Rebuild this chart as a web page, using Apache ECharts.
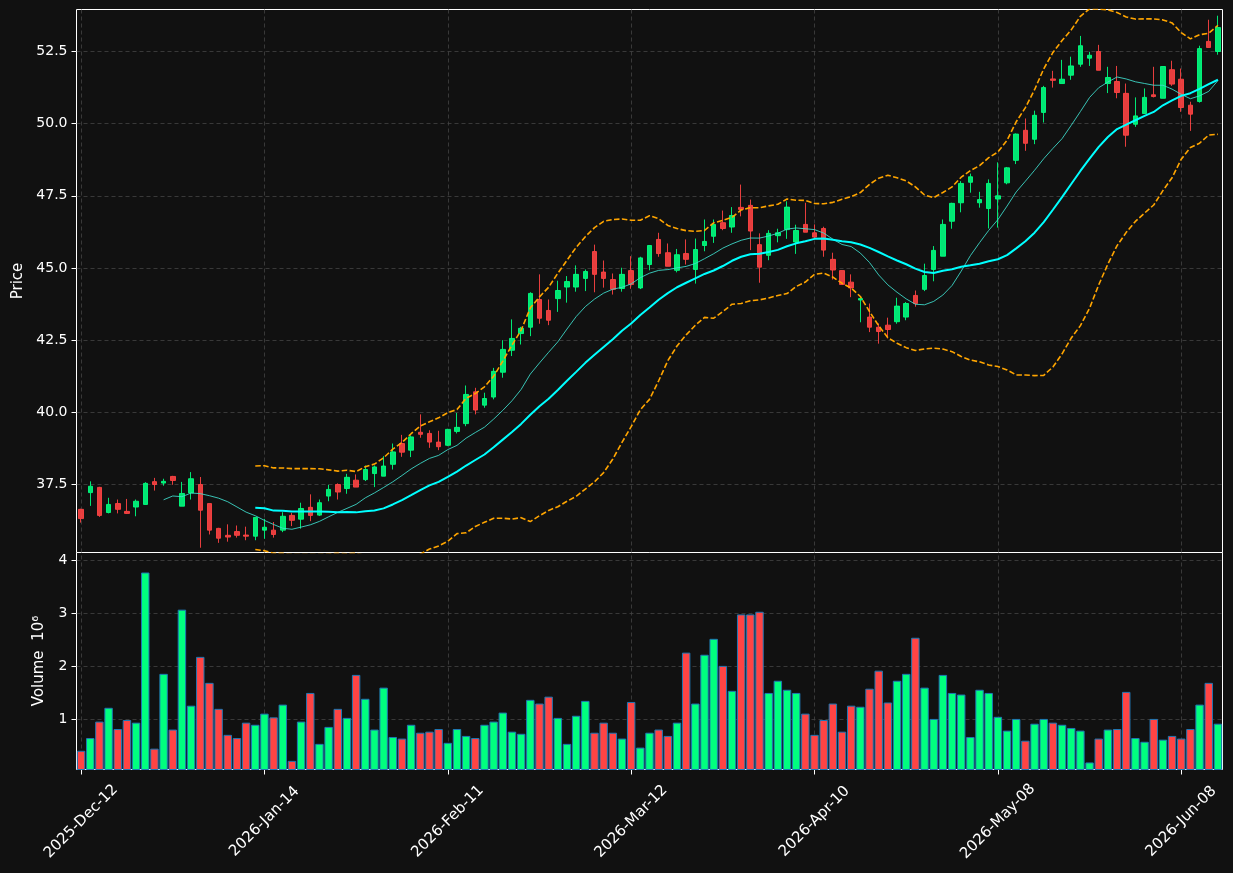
<!DOCTYPE html>
<html>
<head>
<meta charset="utf-8">
<script src="https://cdn.jsdelivr.net/npm/echarts@6/dist/echarts.min.js"></script>
<style>
  html, body { margin: 0; background: #111111; }
  #chart { width: 1233px; height: 873px; }
</style>
</head>
<body>
<div id="chart"></div>
<script>
// trading days start here, weekends and these holidays skipped
const firstDay = '2025-12-12';
const holidays = ['2025-12-25', '2025-12-26', '2026-01-01', '2026-02-16', '2026-04-03', '2026-05-25'];

const opens = [36.64, 37.22, 37.40, 36.53, 36.84, 36.57, 36.72, 36.81, 37.60, 37.55,
  37.78, 36.75, 37.21, 37.50, 36.84, 35.98, 35.74, 35.87, 35.75, 35.71,
  35.92, 35.92, 35.92, 36.43, 36.30, 36.71, 36.44, 37.10, 37.50, 37.36,
  37.65, 37.67, 37.88, 37.79, 38.20, 38.92, 38.69, 39.31, 39.27, 38.97,
  38.86, 39.34, 39.61, 40.71, 40.25, 40.53, 41.39, 42.15, 42.73, 42.95,
  43.91, 43.53, 43.94, 44.34, 44.34, 44.64, 45.57, 44.86, 44.60, 44.29,
  44.91, 44.31, 45.12, 45.99, 45.53, 44.92, 45.50, 44.95, 45.78, 46.10,
  46.57, 46.42, 47.10, 47.17, 45.81, 45.44, 46.12, 46.33, 45.90, 46.51,
  46.22, 46.37, 45.30, 44.91, 44.51, 43.89, 43.30, 42.95, 43.02, 43.14,
  43.30, 44.05, 44.26, 44.95, 45.41, 46.62, 47.26, 47.97, 47.26, 47.06,
  47.39, 47.95, 48.73, 49.77, 49.46, 50.39, 51.55, 51.39, 51.68, 52.06,
  52.27, 52.50, 51.39, 51.46, 51.05, 49.98, 50.35, 51.00, 50.88, 51.87,
  51.54, 50.64, 50.77, 52.85, 52.50];
const highs = [36.66, 37.61, 37.42, 37.04, 36.98, 37.00, 36.98, 37.58, 37.73, 37.70,
  37.80, 37.59, 37.93, 37.76, 36.84, 36.00, 36.12, 36.08, 36.04, 36.36,
  36.31, 36.20, 36.54, 36.52, 36.87, 37.16, 36.98, 37.49, 37.54, 37.87,
  37.85, 38.16, 38.16, 38.48, 38.92, 39.22, 39.20, 39.93, 39.38, 39.36,
  39.43, 39.98, 40.93, 40.85, 40.68, 41.54, 42.50, 43.22, 42.96, 44.16,
  44.78, 43.91, 44.56, 44.72, 45.09, 44.95, 45.81, 45.26, 44.81, 45.01,
  45.41, 45.39, 45.78, 46.22, 45.85, 45.66, 45.99, 46.02, 46.68, 46.68,
  46.99, 47.11, 47.89, 47.37, 46.20, 46.31, 46.36, 47.31, 46.50, 47.26,
  46.51, 46.43, 45.53, 44.92, 44.78, 43.94, 43.77, 43.08, 43.28, 43.97,
  43.82, 44.22, 45.15, 45.76, 46.68, 47.26, 48.01, 48.27, 47.64, 48.07,
  48.66, 48.50, 49.66, 50.18, 50.45, 51.31, 51.83, 52.21, 52.32, 53.04,
  52.49, 52.73, 51.97, 52.00, 51.39, 50.91, 51.22, 51.97, 51.98, 52.18,
  51.91, 50.76, 52.70, 53.60, 53.74];
const lows = [36.18, 36.76, 36.38, 36.50, 36.50, 36.48, 36.40, 36.80, 37.29, 37.46,
  37.49, 36.75, 36.98, 35.31, 35.77, 35.48, 35.52, 35.66, 35.57, 35.57,
  35.62, 35.66, 35.85, 36.06, 35.97, 36.23, 36.41, 36.92, 36.98, 37.18,
  37.41, 37.62, 37.41, 37.79, 38.02, 38.46, 38.45, 39.12, 38.77, 38.69,
  38.83, 39.27, 39.52, 39.93, 40.16, 40.45, 41.20, 41.95, 42.35, 42.64,
  43.07, 43.02, 43.48, 43.80, 44.18, 44.20, 44.16, 44.32, 44.08, 44.18,
  44.28, 44.27, 44.92, 45.39, 45.06, 44.85, 45.12, 44.46, 45.58, 45.87,
  46.31, 46.22, 46.79, 45.62, 44.49, 45.27, 45.89, 46.01, 45.49, 46.24,
  45.99, 45.39, 44.60, 44.43, 43.99, 43.12, 42.78, 42.38, 42.56, 43.07,
  43.19, 43.66, 44.20, 44.54, 45.41, 46.36, 46.93, 47.61, 47.09, 46.37,
  46.40, 47.90, 48.60, 49.06, 49.29, 50.04, 51.25, 51.39, 51.52, 51.97,
  52.00, 51.85, 51.06, 50.88, 49.20, 49.89, 50.35, 50.91, 50.88, 51.31,
  50.41, 49.75, 50.73, 52.64, 52.39];
const closes = [36.32, 37.44, 36.43, 36.81, 36.64, 36.50, 36.92, 37.54, 37.50, 37.61,
  37.64, 37.19, 37.70, 36.61, 35.92, 35.64, 35.68, 35.74, 35.71, 36.36,
  36.02, 35.77, 36.40, 36.26, 36.67, 36.43, 36.87, 37.33, 37.24, 37.75,
  37.41, 38.02, 38.11, 38.14, 38.63, 38.62, 39.15, 39.24, 38.97, 38.81,
  39.41, 39.48, 40.62, 40.08, 40.48, 41.42, 42.18, 42.56, 42.91, 44.12,
  43.26, 43.19, 44.22, 44.53, 44.78, 44.88, 44.78, 44.64, 44.26, 44.78,
  44.43, 45.35, 45.78, 45.50, 45.06, 45.46, 45.30, 45.64, 45.92, 46.51,
  46.37, 46.82, 47.03, 46.28, 45.03, 46.20, 46.22, 47.11, 46.30, 46.24,
  46.07, 45.62, 44.93, 44.43, 44.31, 43.94, 42.95, 42.80, 42.87, 43.68,
  43.77, 43.77, 44.74, 45.61, 46.51, 47.24, 47.93, 48.16, 47.37, 47.93,
  47.50, 48.47, 49.64, 49.32, 50.29, 51.25, 51.50, 51.54, 52.00, 52.70,
  52.37, 51.85, 51.60, 51.08, 49.60, 50.27, 50.91, 50.94, 51.98, 51.37,
  50.56, 50.33, 52.60, 52.64, 53.33];
// volume in millions
const volumes = [0.41, 0.65, 0.96, 1.22, 0.82, 0.99, 0.94, 3.77, 0.45, 1.86,
  0.81, 3.07, 1.26, 2.18, 1.69, 1.20, 0.71, 0.65, 0.94, 0.90,
  1.11, 1.04, 1.28, 0.22, 0.96, 1.50, 0.54, 0.86, 1.20, 1.03,
  1.84, 1.39, 0.81, 1.60, 0.67, 0.64, 0.90, 0.75, 0.77, 0.82,
  0.56, 0.82, 0.69, 0.65, 0.90, 0.96, 1.13, 0.77, 0.73, 1.37,
  1.30, 1.43, 1.03, 0.54, 1.07, 1.35, 0.75, 0.94, 0.75, 0.64,
  1.33, 0.47, 0.75, 0.81, 0.69, 0.94, 2.26, 1.30, 2.22, 2.52,
  2.01, 1.54, 2.98, 2.98, 3.03, 1.50, 1.73, 1.56, 1.50, 1.11,
  0.71, 0.99, 1.30, 0.77, 1.26, 1.24, 1.58, 1.92, 1.32, 1.73,
  1.86, 2.54, 1.60, 1.01, 1.84, 1.50, 1.47, 0.67, 1.56, 1.50,
  1.05, 0.79, 1.01, 0.60, 0.92, 1.01, 0.94, 0.90, 0.84, 0.79,
  0.19, 0.64, 0.81, 0.82, 1.52, 0.65, 0.58, 1.01, 0.62, 0.69,
  0.64, 0.82, 1.28, 1.69, 0.92];

const priceTicks = [37.5, 40, 42.5, 45, 47.5, 50, 52.5];
const volumeTicks = [1, 2, 3, 4];
const labelEvery = 20;

const UP = '#00ff7f';
const DOWN = '#ff4444';
const GRID_LINE = { color: '#444444', type: [4, 3], width: 0.8 };

const MONTHS = ['Jan', 'Feb', 'Mar', 'Apr', 'May', 'Jun', 'Jul', 'Aug', 'Sep', 'Oct', 'Nov', 'Dec'];
function tradingDays(start, n) {
  const out = [];
  const d = new Date(start + 'T00:00:00Z');
  while (out.length < n) {
    const iso = d.toISOString().slice(0, 10);
    const wd = d.getUTCDay();
    if (wd !== 0 && wd !== 6 && holidays.indexOf(iso) < 0) {
      out.push(iso.slice(0, 4) + '-' + MONTHS[d.getUTCMonth()] + '-' + iso.slice(8, 10));
    }
    d.setUTCDate(d.getUTCDate() + 1);
  }
  return out;
}
const dates = tradingDays(firstDay, closes.length);

function rolling(arr, n, fn) {
  return arr.map((v, i) => (i < n - 1 ? null : fn(arr.slice(i - n + 1, i + 1))));
}
const mean = (a) => a.reduce((s, v) => s + v, 0) / a.length;
const std = (a) => {
  const m = mean(a);
  return Math.sqrt(a.reduce((s, v) => s + (v - m) * (v - m), 0) / (a.length - 1));
};
const ma10 = rolling(closes, 10, mean);
const ma20 = rolling(closes, 20, mean);
const bbUpper = rolling(closes, 20, (a) => mean(a) + 2 * std(a));
const bbLower = rolling(closes, 20, (a) => mean(a) - 2 * std(a));

const candles = dates.map((d, i) => [opens[i], closes[i], lows[i], highs[i]]);
const volumeBars = volumes.map((v, i) => ({
  value: v,
  itemStyle: { color: closes[i] >= opens[i] ? UP : DOWN }
}));

const tickIdx = dates.map((d, i) => i).filter((i) => i % labelEvery === 0);
const showTick = (i) => i % labelEvery === 0;
const vLines = tickIdx.map((i) => ({ xAxis: dates[i] }));

const chart = echarts.init(document.getElementById('chart'));
const axisText = { color: '#ffffff', fontSize: 14, fontFamily: 'DejaVu Sans' };
const nameText = { color: '#ffffff', fontSize: 15, fontFamily: 'DejaVu Sans' };

chart.setOption({
  backgroundColor: '#111111',
  animation: false,
  grid: [
    { left: 76.5, top: 9.5, width: 1146, height: 543, show: true, borderColor: '#ffffff', borderWidth: 1, backgroundColor: '#111111' },
    { left: 76.5, top: 552.5, width: 1146, height: 217, show: true, borderColor: '#ffffff', borderWidth: 1, backgroundColor: '#111111' }
  ],
  xAxis: [
    {
      type: 'category', gridIndex: 0, data: dates, boundaryGap: true,
      axisLine: { show: false }, axisTick: { show: false }, axisLabel: { show: false },
      splitLine: { show: false }
    },
    {
      type: 'category', gridIndex: 1, data: dates, boundaryGap: true,
      axisLine: { show: false },
      axisTick: { show: true, alignWithLabel: true, interval: showTick, length: 5, lineStyle: { color: '#ffffff' } },
      axisLabel: Object.assign({}, axisText, {
        fontSize: 15, interval: showTick, rotate: 45, margin: 52, align: 'center', verticalAlign: 'middle'
      }),
      splitLine: { show: false }
    }
  ],
  yAxis: [
    {
      type: 'value', gridIndex: 0, min: 35.145, max: 53.955, scale: true,
      name: 'Price', nameLocation: 'middle', nameGap: 51,
      nameTextStyle: nameText,
      axisLine: { show: false },
      axisTick: { show: true, length: 5, customValues: priceTicks, lineStyle: { color: '#ffffff' } },
      axisLabel: Object.assign({ customValues: priceTicks, margin: 9, formatter: (v) => v.toFixed(1) }, axisText),
      splitLine: { show: false }
    },
    {
      type: 'value', gridIndex: 1,
      min: 0.3 * Math.min(...volumes), max: 1.1 * Math.max(...volumes),
      name: 'Volume  10\u2076', nameLocation: 'middle', nameGap: 30,
      nameTextStyle: nameText,
      axisLine: { show: false },
      axisTick: { show: true, length: 5, customValues: volumeTicks, lineStyle: { color: '#ffffff' } },
      axisLabel: Object.assign({ customValues: volumeTicks, margin: 9 }, axisText),
      splitLine: { show: false }
    }
  ],
  series: [
    {
      // dashed grid of the price panel
      type: 'line', xAxisIndex: 0, yAxisIndex: 0, data: [], z: 0, silent: true,
      markLine: {
        silent: true, symbol: 'none', label: { show: false }, animation: false, z: 0,
        lineStyle: GRID_LINE,
        data: vLines.concat(priceTicks.map((v) => ({ yAxis: v })))
      }
    },
    {
      // dashed grid of the volume panel
      type: 'line', xAxisIndex: 1, yAxisIndex: 1, data: [], z: 0, silent: true,
      markLine: {
        silent: true, symbol: 'none', label: { show: false }, animation: false, z: 0,
        lineStyle: GRID_LINE,
        data: vLines.concat(volumeTicks.map((v) => ({ yAxis: v })))
      }
    },
    {
      name: 'Price', type: 'candlestick', xAxisIndex: 0, yAxisIndex: 0,
      data: candles, barWidth: 5, z: 3,
      itemStyle: {
        color: UP, color0: DOWN, borderColor: UP, borderColor0: DOWN,
        borderWidth: 1, opacity: 0.9
      }
    },
    {
      name: 'MA10', type: 'line', xAxisIndex: 0, yAxisIndex: 0, data: ma10, z: 4,
      showSymbol: false, symbol: 'none', smooth: false,
      lineStyle: { color: '#40e0d0', width: 1, opacity: 0.85 }
    },
    {
      name: 'MA20', type: 'line', xAxisIndex: 0, yAxisIndex: 0, data: ma20, z: 4,
      showSymbol: false, symbol: 'none',
      lineStyle: { color: '#00ffff', width: 2 }
    },
    {
      name: 'BB upper', type: 'line', xAxisIndex: 0, yAxisIndex: 0, data: bbUpper, z: 4,
      showSymbol: false, symbol: 'none',
      lineStyle: { color: '#ffa500', width: 1.6, type: [5.5, 2.4] }
    },
    {
      name: 'BB lower', type: 'line', xAxisIndex: 0, yAxisIndex: 0, data: bbLower, z: 4,
      showSymbol: false, symbol: 'none',
      lineStyle: { color: '#ffa500', width: 1.6, type: [5.5, 2.4] }
    },
    {
      name: 'Volume', type: 'bar', xAxisIndex: 1, yAxisIndex: 1, data: volumeBars, z: 3,
      barCategoryGap: '8%',
      itemStyle: { borderColor: '#1f77b4', borderWidth: 1 }
    }
  ]
});
</script>
</body>
</html>
